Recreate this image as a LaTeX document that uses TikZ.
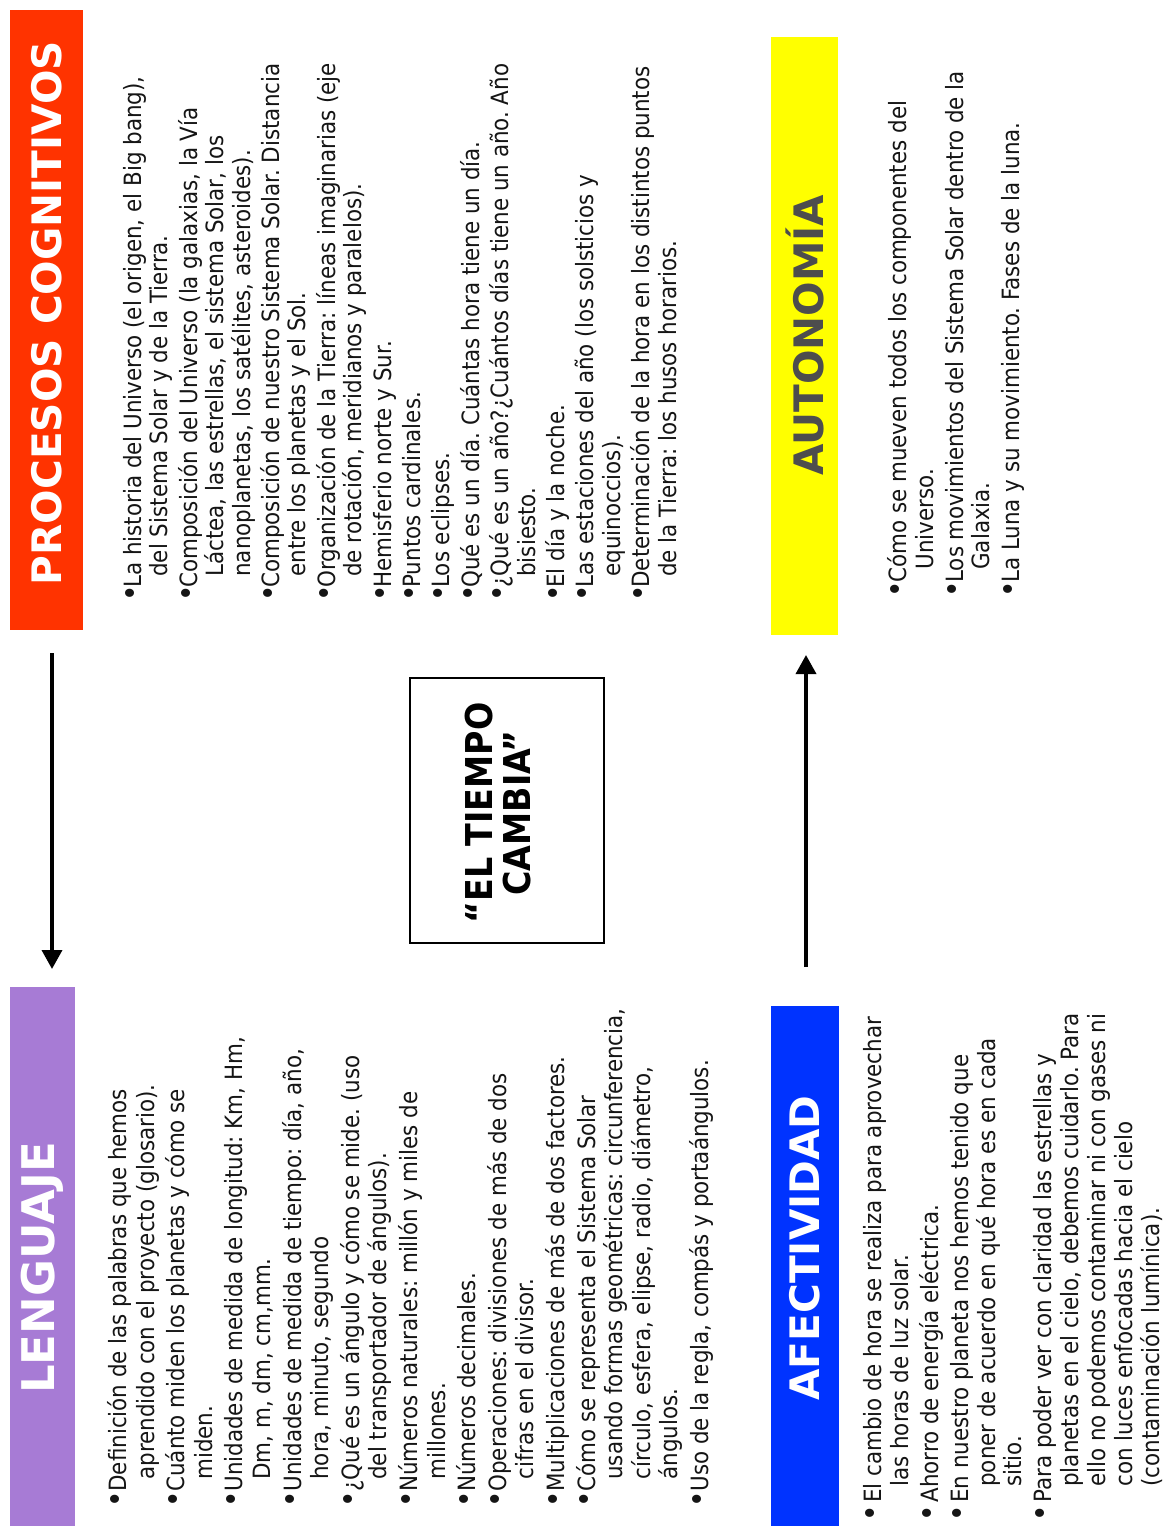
\documentclass[tikz,border=0pt]{standalone}
\usepackage{fontspec}
\setmainfont{DejaVu Sans Condensed}
\newfontfamily\headfont{DejaVu Sans}
\newfontfamily\titlefont{DejaVu Sans Condensed Bold}
\usetikzlibrary{arrows.meta}
\definecolor{cred}{HTML}{FF3300}
\definecolor{cpurple}{HTML}{A77BD5}
\definecolor{cblue}{HTML}{0033FF}
\definecolor{cyellow}{HTML}{FFFF00}
\definecolor{cgray}{HTML}{4D4D4D}
\definecolor{ctext}{HTML}{151515}
\newcommand\bl[1]{\makebox[#1][l]{\hspace*{-0.6pt}\scalebox{1.3}{•}}}
\newcommand\ct[1]{\hspace*{#1}}
\newcommand\fl{\rule{0pt}{11.5pt}}
\frenchspacing
\begin{document}
\begin{tikzpicture}[x=0.5pt,y=-0.5pt,
  catbox/.style={rectangle, inner sep=0pt, anchor=north west},
  head/.style={rotate=90, inner sep=0pt, font=\headfont\bfseries\fontsize{20.3}{24}\selectfont},
  body/.style={rotate=90, anchor=north west, inner sep=0pt, align=left, text=ctext},
  arr/.style={line width=1.8pt, -{Triangle[length=9.5pt,width=10pt]}}]
\useasboundingbox (0,0) rectangle (1172,1526);
\fill[white] (0,0) rectangle (1172,1526);

% coloured header boxes
\node[catbox, fill=cred, minimum width=36.5pt, minimum height=310pt] (redbox) at (10,10) {};
\node[catbox, fill=cpurple, minimum width=32.5pt, minimum height=269.5pt] (purbox) at (10,987) {};
\node[catbox, fill=cyellow, minimum width=33.5pt, minimum height=299pt] (yelbox) at (771,37) {};
\node[catbox, fill=cblue, minimum width=34pt, minimum height=260pt] (blubox) at (771,1006) {};

\node[head, text=white] (redh) at (46.5,313) {PROCESOS COGNITIVOS};
\node[head, text=white, font=\headfont\bfseries\fontsize{22.5}{26}\selectfont] (purh) at (42.5,1268) {LENGUAJE};
\node[head, text=cgray] (yelh) at (805,335) {AUTONOMÍA};
\node[head, text=white] (bluh) at (805,1248) {AFECTIVIDAD};

% centre box
\node[draw, line width=0.9pt, rotate=90, minimum width=132.5pt, minimum height=97pt, inner sep=0pt] (centre) at (507,810.5) {};
\node[rotate=90, align=center, inner sep=0pt, font=\titlefont\fontsize{18.5}{19}\selectfont] (title) at (498,813) {“EL TIEMPO\\CAMBIA”};

% arrows
\coordinate (la1) at (52,653);
\coordinate (la2) at (52,969);
\coordinate (ra1) at (806,967);
\coordinate (ra2) at (806,655);
\draw[arr] (la1) -- (la2);
\draw[arr] (ra1) -- (ra2);

% PROCESOS COGNITIVOS text
\node[body, font=\fontsize{11.9}{13.2}\selectfont] (procT) at (118,601) {%
\fl\bl{6.5pt}La historia del Universo (el origen, el Big bang),\\
\ct{12pt}del Sistema Solar y de la Tierra.\\[1.5pt]
\bl{6.5pt}Composición del Universo (la galaxias, la Vía\\
\ct{12pt}Láctea, las estrellas, el sistema Solar, los\\
\ct{12pt}nanoplanetas, los satélites, asteroides).\\[1.5pt]
\bl{6.5pt}Composición de nuestro Sistema Solar. Distancia\\
\ct{12pt}entre los planetas y el Sol.\\[1.5pt]
\bl{6.5pt}Organización de la Tierra: líneas imaginarias (eje\\
\ct{12pt}de rotación, meridianos y paralelos).\\[1.5pt]
\bl{6.5pt}Hemisferio norte y Sur.\\[1.5pt]
\bl{6.5pt}Puntos cardinales.\\[1.5pt]
\bl{6.5pt}Los eclipses.\\[1.5pt]
\bl{6.5pt}Qué es un día. Cuántas hora tiene un día.\\[1.5pt]
\bl{6.5pt}¿Qué es un año?¿Cuántos días tiene un año. Año\\
\ct{12pt}bisiesto.\\[1.5pt]
\bl{6.5pt}El día y la noche.\\[1.5pt]
\bl{6.5pt}Las estaciones del año (los solsticios y\\
\ct{12pt}equinoccios).\\[1.5pt]
\bl{6.5pt}Determinación de la hora en los distintos puntos\\
\ct{12pt}de la Tierra: los husos horarios.};

% LENGUAJE text
\node[body, font=\fontsize{11.9}{13.8}\selectfont] (lenT) at (103,1507) {%
\fl\bl{7.5pt}Definición de las palabras que hemos\\
\ct{13.5pt}aprendido con el proyecto (glosario).\\[1.5pt]
\bl{7.5pt}Cuánto miden los planetas y cómo se\\
\ct{13.5pt}miden.\\[1.5pt]
\bl{7.5pt}Unidades de medida de longitud: Km, Hm,\\
\ct{13.5pt}Dm, m, dm, cm,mm.\\[1.5pt]
\bl{7.5pt}Unidades de medida de tiempo: día, año,\\
\ct{13.5pt}hora, minuto, segundo\\[1.5pt]
\bl{7.5pt}¿Qué es un ángulo y cómo se mide. (uso\\
\ct{13.5pt}del transportador de ángulos).\\[1.5pt]
\bl{7.5pt}Números naturales: millón y miles de\\
\ct{13.5pt}millones.\\[1.5pt]
\bl{7.5pt}Números decimales.\\[1.5pt]
\bl{7.5pt}Operaciones: divisiones de más de dos\\
\ct{13.5pt}cifras en el divisor.\\[1.5pt]
\bl{7.5pt}Multiplicaciones de más de dos factores.\\[1.5pt]
\bl{7.5pt}Cómo se representa el Sistema Solar\\
\ct{13.5pt}usando formas geométricas: circunferencia,\\
\ct{13.5pt}círculo, esfera, elipse, radio, diámetro,\\
\ct{13.5pt}ángulos.\\[1.5pt]
\bl{7.5pt}Uso de la regla, compás y portaángulos.};

% AUTONOMIA text
\node[body, font=\fontsize{11.9}{13.4}\selectfont] (autT) at (883,597) {%
\fl\bl{7pt}Cómo se mueven todos los componentes del\\
\ct{13.5pt}Universo.\\[1.5pt]
\bl{7pt}Los movimientos del Sistema Solar dentro de la\\
\ct{13.5pt}Galaxia.\\[1.5pt]
\bl{7pt}La Luna y su movimiento. Fases de la luna.};

% AFECTIVIDAD text
\node[body, font=\fontsize{11.9}{13.45}\selectfont] (afeT) at (858,1521) {%
\fl\bl{9pt}El cambio de hora se realiza para aprovechar\\
\ct{17pt}las horas de luz solar.\\[1.5pt]
\bl{9pt}Ahorro de energía eléctrica.\\[1.5pt]
\bl{9pt}En nuestro planeta nos hemos tenido que\\
\ct{17pt}poner de acuerdo en qué hora es en cada\\
\ct{17pt}sitio.\\[1.5pt]
\bl{9pt}Para poder ver con claridad las estrellas y\\
\ct{17pt}planetas en el cielo, debemos cuidarlo. Para\\
\ct{17pt}ello no podemos contaminar ni con gases ni\\
\ct{17pt}con luces enfocadas hacia el cielo\\
\ct{17pt}(contaminación lumínica).};
\end{tikzpicture}
\end{document}
